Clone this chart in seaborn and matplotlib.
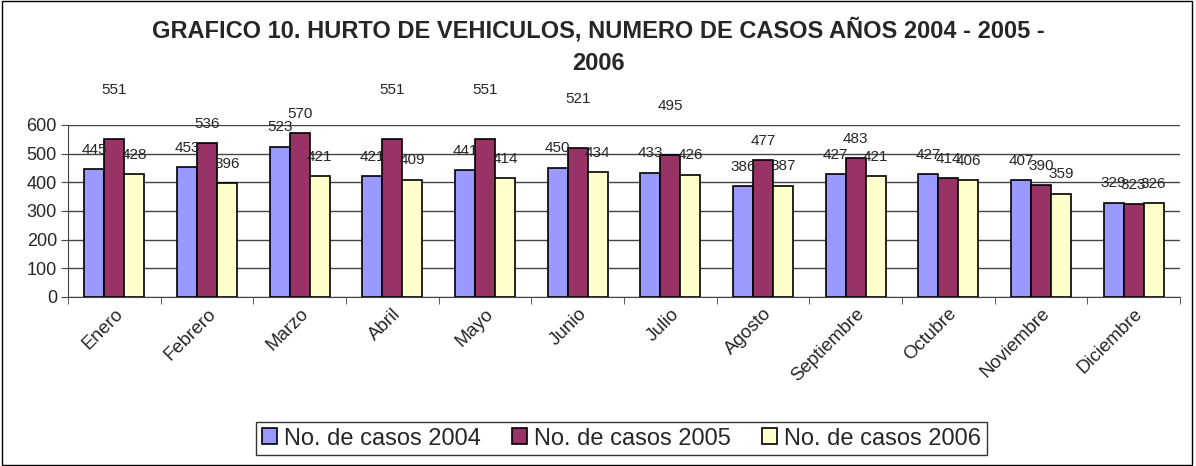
import matplotlib
matplotlib.use("Agg")
import matplotlib.pyplot as plt
import seaborn as sns
import pandas as pd
from matplotlib.patches import Rectangle

meses = ["Enero", "Febrero", "Marzo", "Abril", "Mayo", "Junio", "Julio",
         "Agosto", "Septiembre", "Octubre", "Noviembre", "Diciembre"]
casos_2004 = [445, 453, 523, 421, 441, 450, 433, 386, 427, 427, 407, 329]
casos_2005 = [551, 536, 570, 551, 551, 521, 495, 477, 483, 414, 390, 323]
casos_2006 = [428, 396, 421, 409, 414, 434, 426, 387, 421, 406, 359, 326]
series = ["No. de casos 2004", "No. de casos 2005", "No. de casos 2006"]
colores = ["#9999FF", "#993366", "#FFFFCC"]

df = pd.DataFrame({"Mes": meses * 3,
                   "Serie": [series[0]] * 12 + [series[1]] * 12 + [series[2]] * 12,
                   "Casos": casos_2004 + casos_2005 + casos_2006})

sns.set_style("white")
plt.rcParams["font.family"] = ["Liberation Sans", "DejaVu Sans"]

fig = plt.figure(figsize=(11.96, 4.66), dpi=100)
ax = fig.add_axes([0.0569, 0.363, 0.9297, 0.369])

sns.barplot(data=df, x="Mes", y="Casos", hue="Serie", palette=colores,
            width=0.647, gap=0, edgecolor="black", linewidth=1.2,
            saturation=1, ax=ax, legend=True)

# etiquetas de datos (algunas de 2005 van mas arriba, como en el original)
alto_2005 = [1, 0, 0, 1, 1, 1, 1, 0, 0, 0, 0, 0]
for i, cont in enumerate(ax.containers):
    if i == 1:
        for bar, alto in zip(cont, alto_2005):
            pad = 30 if alto else 9
            ax.annotate(f"{int(bar.get_height())}",
                        (bar.get_x() + bar.get_width() / 2, bar.get_height()),
                        xytext=(0, pad), textcoords="offset points",
                        ha="center", va="bottom", fontsize=11)
    else:
        ax.bar_label(cont, fontsize=11, padding=9)

ax.set_ylim(0, 600)
ax.set_xlim(-0.5, 11.5)
ax.set_yticks(range(0, 601, 100))
ax.yaxis.grid(True, color="#444444", linewidth=1)
ax.set_axisbelow(True)
ax.set_xlabel("")
ax.set_ylabel("")
for s in ["top", "right"]:
    ax.spines[s].set_visible(False)
for s in ["left", "bottom"]:
    ax.spines[s].set_color("#444444")
ax.tick_params(axis="y", labelsize=13, length=5, direction="out", left=True,
               color="#444444", pad=3)
ax.tick_params(axis="x", labelsize=13.5, length=0, pad=6)
plt.setp(ax.get_xticklabels(), rotation=45, ha="right", rotation_mode="anchor")
# marcas entre categorias
ax.set_xticks([i + 0.5 for i in range(-1, 12)], minor=True)
ax.tick_params(axis="x", which="minor", length=5, bottom=True, color="#444444")

fig.text(0.5, 0.935, "GRAFICO 10. HURTO DE VEHICULOS, NUMERO DE CASOS AÑOS 2004 - 2005 -",
         ha="center", va="center", fontsize=17, fontweight="bold")
fig.text(0.5, 0.863, "2006", ha="center", va="center", fontsize=17, fontweight="bold")

leg = ax.legend(loc="center", bbox_to_anchor=(0.5195, 0.059), bbox_transform=fig.transFigure,
                ncol=3, fontsize=17, frameon=True, fancybox=False, edgecolor="black",
                handlelength=0.65, handleheight=0.65, handletextpad=0.3, columnspacing=1.3,
                borderpad=0.25, borderaxespad=0)
leg.get_frame().set_linewidth(1)

fig.patches.append(Rectangle((0.002, 0.003), 0.995, 0.994, transform=fig.transFigure,
                             fill=False, edgecolor="black", linewidth=1))

fig.savefig("out.png", dpi=100)
